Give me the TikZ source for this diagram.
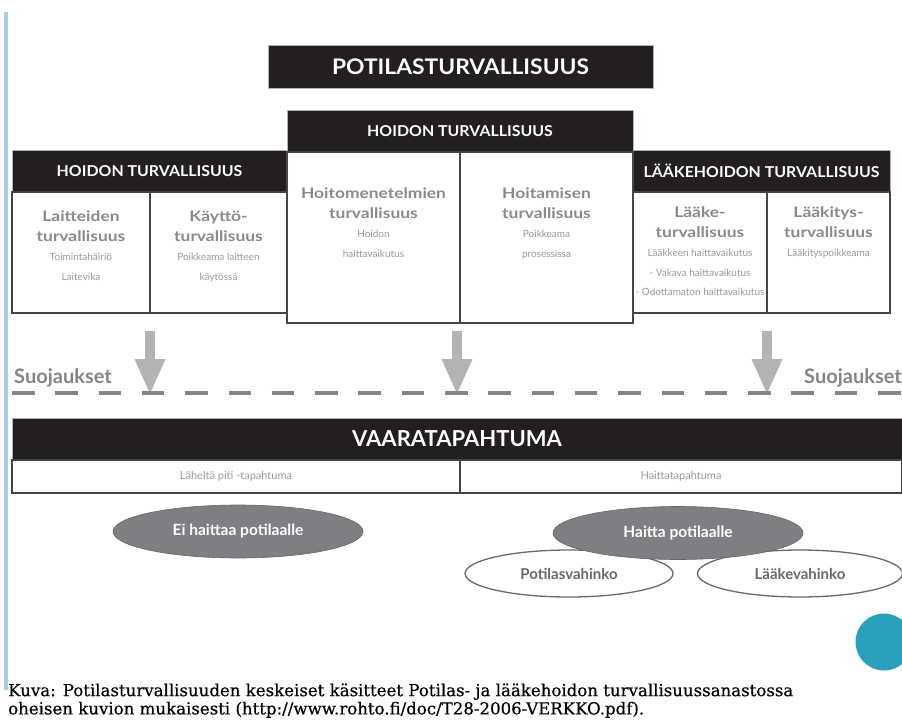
\documentclass[tikz,border=0pt]{standalone}
\usepackage{fontspec}
\setmainfont{Lato}
\newfontfamily\ttlfont[FakeStretch=1.2]{Lato}
\newfontfamily\hdrfont[FakeStretch=1.06]{Lato}
\newfontfamily\capfont[FakeBold=0.4]{DejaVu Serif}
\usetikzlibrary{arrows.meta,shapes.geometric}
\definecolor{hdr}{HTML}{231F20}
\definecolor{txtgray}{HTML}{8A8A8C}
\definecolor{subgray}{HTML}{9A9A9C}
\definecolor{arrgray}{HTML}{B3B3B5}
\definecolor{dashgray}{HTML}{858587}
\definecolor{ellgray}{HTML}{7E7F83}
\definecolor{ellline}{HTML}{6A6A6A}
\definecolor{boxline}{HTML}{454545}
\definecolor{tealc}{HTML}{2AA0BF}
\definecolor{sideblue}{HTML}{A8D0E0}
\newcommand\boxttl[1]{{\ttlfont\fontsize{14.5}{19.5}\selectfont\bfseries\color{txtgray}#1}}
\begin{document}
\begin{tikzpicture}[x=1pt,y=-1pt,
  hdrbox/.style={fill=hdr, draw=gray!60, line width=0.8pt, text=white, inner sep=0pt, outer sep=0pt},
  wbox/.style={fill=white, draw=boxline, line width=1.5pt, inner sep=0pt, outer sep=0pt},
  boxtext/.style={anchor=north, align=center, inner sep=0pt, text=subgray, font=\fontsize{10}{19.5}\selectfont},
  garrow/.style={draw=arrgray, line width=10pt, -{Triangle[length=36pt,width=28pt]}},
  darkell/.style={ellipse, fill=ellgray, draw=ellgray!80!black, line width=0.6pt, inner sep=0pt, text=white, font=\bfseries\fontsize{15.5}{18}\selectfont},
  lightell/.style={ellipse, fill=white, draw=ellline, line width=1.3pt, inner sep=0pt, text=ellline, font=\bfseries\fontsize{15}{18}\selectfont},
  suoj/.style={text=dashgray, inner sep=0pt, font=\bfseries\fontsize{20}{24}\selectfont}]
\useasboundingbox (0,0) rectangle (902,725);
\fill[white] (0,0) rectangle (902,725);
% left side bar
\fill[sideblue] (4,12) rectangle (8,690);

% top title
\node[hdrbox, minimum width=385pt, minimum height=43pt, font=\hdrfont\bfseries\fontsize{21.5}{24}\selectfont] (pot) at (460.5,66.5) {POTILASTURVALLISUUS};

% left group
\node[hdrbox, minimum width=275pt, minimum height=42pt, font=\hdrfont\bfseries\fontsize{15}{18}\selectfont] (lh) at (149.5,171) {HOIDON TURVALLISUUS};
\node[wbox, minimum width=138pt, minimum height=121pt] (lb1) at (81,252.5) {};
\node[wbox, minimum width=137pt, minimum height=121pt] (lb2) at (218.5,252.5) {};
% right group
\node[hdrbox, minimum width=257pt, minimum height=42pt, font=\hdrfont\bfseries\fontsize{15}{18}\selectfont] (rh) at (761.5,171) {LÄÄKEHOIDON TURVALLISUUS};
\node[wbox, minimum width=134pt, minimum height=121pt] (rb1) at (700,252.5) {};
\node[wbox, minimum width=123pt, minimum height=121pt] (rb2) at (828.5,252.5) {};
% middle group
\node[hdrbox, minimum width=346pt, minimum height=42pt, font=\hdrfont\bfseries\fontsize{15}{18}\selectfont] (mh) at (460,131) {HOIDON TURVALLISUUS};
\node[wbox, minimum width=173pt, minimum height=171pt] (mb1) at (373.5,237.5) {};
\node[wbox, minimum width=173pt, minimum height=171pt] (mb2) at (546.5,237.5) {};

% box texts
\node[boxtext] (t1) at (81,211) {\boxttl{Laitteiden}\\\boxttl{turvallisuus}\\Toimintahäiriö\\Laitevika};
\node[boxtext] (t2) at (218.5,211) {\boxttl{Käyttö-}\\\boxttl{turvallisuus}\\Poikkeama laitteen\\käytössä};
\node[boxtext] (t3) at (373.5,188) {\boxttl{Hoitomenetelmien}\\\boxttl{turvallisuus}\\Hoidon\\haittavaikutus};
\node[boxtext] (t4) at (546.5,188) {\boxttl{Hoitamisen}\\\boxttl{turvallisuus}\\Poikkeama\\prosessissa};
\node[boxtext] (t5) at (700,207) {\boxttl{Lääke-}\\\boxttl{turvallisuus}\\Lääkkeen haittavaikutus\\- Vakava haittavaikutus\\- Odottamaton haittavaikutus};
\node[boxtext] (t6) at (828.5,207) {\boxttl{Lääkitys-}\\\boxttl{turvallisuus}\\Lääkityspoikkeama};

% arrows
\coordinate (a1) at (150,331);
\coordinate (b1) at (150,395);
\coordinate (a2) at (457,331);
\coordinate (b2) at (457,395);
\coordinate (a3) at (767,331);
\coordinate (b3) at (767,395);
\draw[garrow] (a1) -- (b1);
\draw[garrow] (a2) -- (b2);
\draw[garrow] (a3) -- (b3);

% Suojaukset and dashed line
\node[suoj, anchor=base west] (s1) at (14,383) {Suojaukset};
\node[suoj, anchor=base west] (s2) at (804,383) {Suojaukset};
\coordinate (d1) at (12,393);
\coordinate (d2) at (902,393);
\draw[dashgray, line width=4pt, dash pattern=on 22.5pt off 20.8pt] (d1) -- (d2);

% Vaaratapahtuma
\node[hdrbox, minimum width=890pt, minimum height=42pt, font=\bfseries\fontsize{22}{26}\selectfont] (vt) at (457,439) {VAARATAPAHTUMA};
\node[wbox, minimum width=448pt, minimum height=33pt, text=subgray, font=\fontsize{11}{13}\selectfont] (v1) at (236,476.5) {Läheltä piti -tapahtuma};
\node[wbox, minimum width=442pt, minimum height=33pt, text=subgray, font=\fontsize{11}{13}\selectfont] (v2) at (681,476.5) {Haittatapahtuma};

% ellipses
\node[lightell, minimum width=208pt, minimum height=47pt] (e3) at (569,573.5) {Potilasvahinko};
\node[lightell, minimum width=205pt, minimum height=47pt] (e4) at (800,573.5) {Lääkevahinko};
\node[darkell, minimum width=250pt, minimum height=53pt] (e1) at (238,531.5) {Ei haittaa potilaalle};
\node[darkell, minimum width=250pt, minimum height=53pt] (e2) at (678,533) {Haitta potilaalle};

% teal circle
\fill[tealc] (884,642) circle (28.5pt);

% caption
\node[anchor=north west, inner sep=0pt, font=\capfont] (cap) at (8,682) {\resizebox{785pt}{!}{\begin{tabular}{@{}l@{}}Kuva: Potilasturvallisuuden keskeiset käsitteet Potilas- ja lääkehoidon turvallisuussanastossa\\[-1pt] oheisen kuvion mukaisesti (http://www.rohto.fi/doc/T28-2006-VERKKO.pdf).\end{tabular}}};
\end{tikzpicture}
\end{document}
